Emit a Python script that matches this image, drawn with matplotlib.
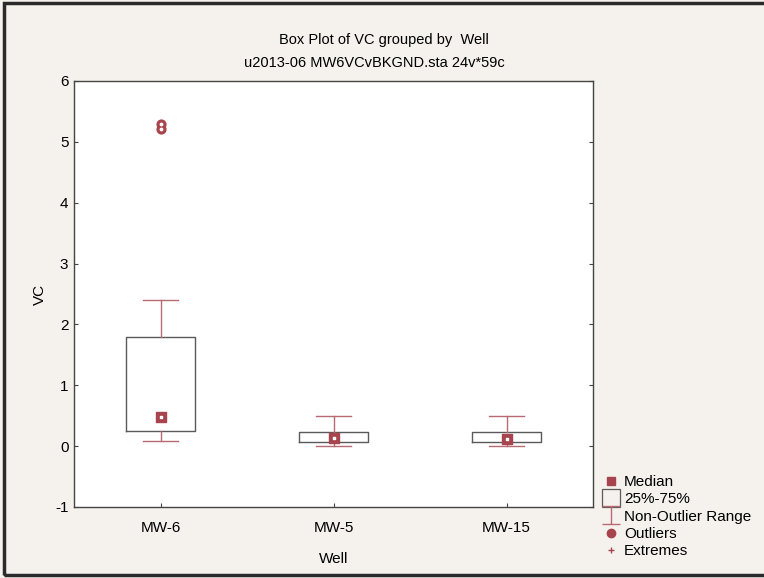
import matplotlib.pyplot as plt
from matplotlib.lines import Line2D
from matplotlib.patches import Rectangle
from matplotlib.path import Path

plt.rcParams['font.family'] = ['Liberation Sans', 'DejaVu Sans']
plt.rcParams['axes.unicode_minus'] = False

wells = ["MW-6", "MW-5", "MW-15"]
q1 = [0.25, 0.06, 0.06]
median = [0.48, 0.13, 0.12]
q3 = [1.80, 0.235, 0.235]
whisker_lo = [0.09, 0.0, 0.0]
whisker_hi = [2.40, 0.50, 0.50]
outliers = [[5.29, 5.21], [], []]
yticks = [-1, 0, 1, 2, 3, 4, 5, 6]

box_edge = "#5a5a5a"
whisk_col = "#b86a74"
mark_col = "#a8444e"
bg = "#f5f1ed"

stats = []
for i, w in enumerate(wells):
    stats.append(dict(label=w, q1=q1[i], med=median[i], q3=q3[i],
                      whislo=whisker_lo[i], whishi=whisker_hi[i],
                      fliers=outliers[i]))

fig = plt.figure(figsize=(7.64, 5.78), dpi=100, facecolor=bg)
ax = fig.add_axes([74 / 764, 1 - 507 / 578, 519 / 764, 426 / 578])
ax.set_facecolor("white")

pos = list(range(len(wells)))
ax.bxp(stats, positions=pos, widths=0.4, showfliers=False,
       boxprops=dict(color=box_edge, linewidth=1.0),
       whiskerprops=dict(color=whisk_col, linewidth=1.0),
       capprops=dict(color=whisk_col, linewidth=1.0),
       medianprops=dict(linewidth=0), capwidths=0.2)

# medians: filled squares with a light centre
ax.scatter(pos, median, marker="s", s=50, color=mark_col, zorder=3)
ax.scatter(pos, median, marker="s", s=3, color="white", zorder=4)

# outliers
for p, vals in zip(pos, outliers):
    if vals:
        ax.scatter([p] * len(vals), vals, marker="o", s=40, color=mark_col, zorder=3)
        ax.scatter([p] * len(vals), vals, marker="o", s=3, color="white", zorder=4)

ax.set_xlim(-0.5, 2.5)
ax.set_ylim(-1, 6)
ax.set_xticks(pos)
ax.set_xticklabels(wells)
ax.set_yticks(yticks)
ax.tick_params(direction="in", length=3, width=0.8, color="#444444",
               labelsize=11, right=True, pad=4)
ax.tick_params(axis="x", pad=10)
for s in ax.spines.values():
    s.set_color("#444444")
    s.set_linewidth(1.0)

ax.set_xlabel("Well", fontsize=11, labelpad=12)
ax.set_ylabel("VC", fontsize=11, labelpad=6)

fig.text(0.503, 1 - 40 / 578, "Box Plot of VC grouped by  Well",
         ha="center", va="center", fontsize=10.5)
fig.text(0.49, 1 - 63 / 578, "u2013-06 MW6VCvBKGND.sta 24v*59c",
         ha="center", va="center", fontsize=10.5)

# legend symbols
ibeam = Path([(-1, 1), (1, 1), (0, 1), (0, -1), (-1, -1), (1, -1)],
             [Path.MOVETO, Path.LINETO, Path.MOVETO, Path.LINETO,
              Path.MOVETO, Path.LINETO])
handles = [
    Line2D([], [], ls="none", marker="s", ms=6, color=mark_col),
    Line2D([], [], ls="none", marker="s", ms=13, mfc="none", mec=box_edge, mew=0.9),
    Line2D([], [], ls="none", marker=ibeam, ms=13, color=whisk_col, mew=1.0),
    Line2D([], [], ls="none", marker="o", ms=6, color=mark_col),
    Line2D([], [], ls="none", marker="+", ms=5, color=mark_col),
]
labels = ["Median", "25%-75%", "Non-Outlier Range", "Outliers", "Extremes"]
fig.legend(handles, labels, loc="upper left",
           bbox_to_anchor=(604 / 764, 1 - 475 / 578), frameon=False,
           fontsize=11, handlelength=0.9, handletextpad=0.4,
           labelspacing=0.22, borderpad=0, borderaxespad=0)

# outer frame
fig.patches.append(Rectangle((4 / 764, 3 / 578), 770 / 764, 572 / 578,
                             transform=fig.transFigure, fill=False,
                             edgecolor="#2a2a2a", linewidth=2.5))

fig.savefig("out.png", dpi=100, facecolor=bg)
